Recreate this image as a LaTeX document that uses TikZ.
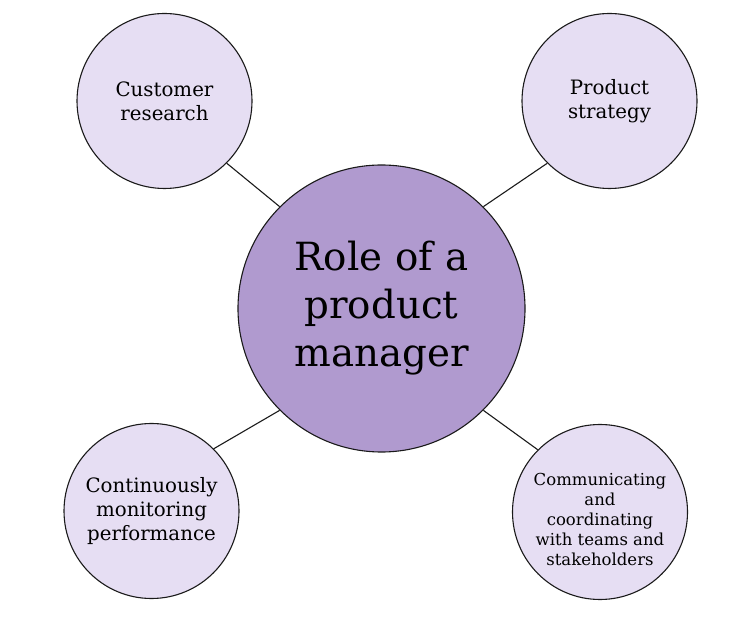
\documentclass[tikz,border=0pt]{standalone}
\usepackage{fontspec}
\setmainfont{DejaVu Serif}
\definecolor{lightlav}{HTML}{E6DEF3}
\definecolor{midlav}{HTML}{B09ACF}
\definecolor{edgecol}{HTML}{1A1A1A}
\begin{document}
\begin{tikzpicture}[x=1pt,y=1pt,
  topic/.style={circle,draw=edgecol,line width=1.1pt,fill=lightlav,minimum size=175pt,inner sep=0pt,align=center,text=black,font=\fontsize{19.8}{24}\selectfont},
  hub/.style={circle,draw=edgecol,line width=1.1pt,fill=midlav,minimum size=287pt,inner sep=0pt,align=center,text=black,font=\fontsize{38.8}{48}\selectfont},
  smalltext/.style={align=center,text=black,font=\fontsize{16.5}{20}\selectfont},
  link/.style={draw=edgecol,line width=1.1pt}]
\useasboundingbox (0,0) rectangle (730,626);
\node[hub] (c) at (381.5,317.5) {Role of a\\product\\manager};
\node[topic] (tl) at (164.5,525) {Customer\\research};
\node[topic] (tr) at (609.5,525) {Product\\strategy};
\node[topic] (bl) at (151.5,115) {Continuously\\monitoring\\performance};
\node[topic,label={[smalltext,yshift=-7pt]center:{Communicating\\and\\coordinating\\with teams and\\stakeholders}}] (br) at (600,114) {};
\draw[link] (c.135) -- (tl.-45);
\draw[link] (c.45) -- (tr.-135);
\draw[link] (c.-135) -- (bl.45);
\draw[link] (c.-45) -- (br.135);
\end{tikzpicture}
\end{document}
